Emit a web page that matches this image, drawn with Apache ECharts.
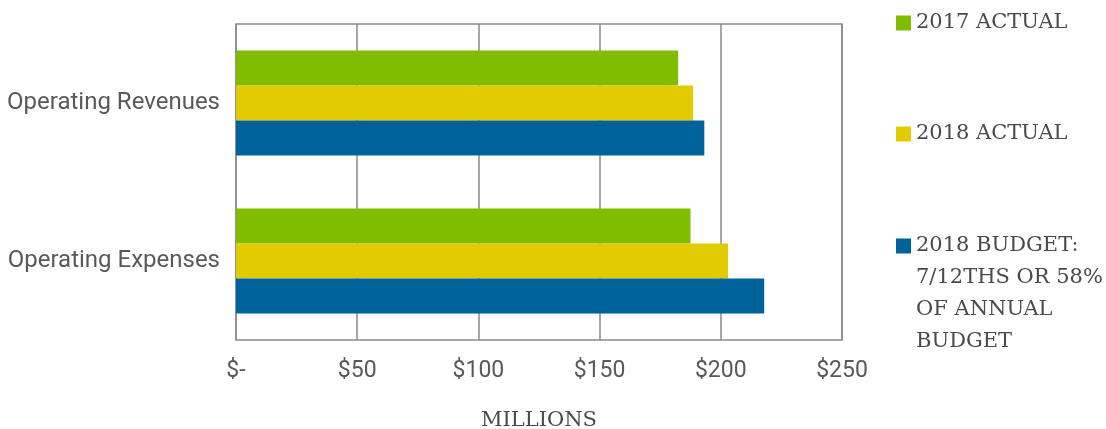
<!DOCTYPE html>
<html>
<head>
<meta charset="utf-8">
<script src="https://cdn.jsdelivr.net/npm/echarts@6/dist/echarts.min.js"></script>
<style>
  html, body { margin: 0; padding: 0; background: #ffffff; }
  #chart { width: 1106px; height: 429px; }
</style>
</head>
<body>
<div id="chart"></div>
<script>
// Operating results, in millions of dollars
const categories = ['Operating Revenues', 'Operating Expenses'];
const actual2017 = [182.4, 187.5];
const actual2018 = [188.6, 203.0];
const budget2018 = [193.2, 217.9];
const seriesNames = ['2017 ACTUAL', '2018 ACTUAL', '2018 BUDGET:\n7/12THS OR 58%\nOF ANNUAL\nBUDGET'];
const seriesColors = ['#80BC00', '#E2CB00', '#00629B'];
const axisTitle = 'MILLIONS';

const legendFont = { fontFamily: 'DejaVu Serif', fontSize: 21, color: '#4a4a4a', lineHeight: 32 };

// One legend block per series; the multi-line entry is padded with blank
// lines above so its first line sits level with the swatch.
function legendFor(i, top, blankLines) {
  const pad = '\n'.repeat(blankLines || 0);
  return {
    show: true,
    orient: 'vertical',
    left: 896,
    top: top,
    padding: 0,
    itemWidth: 15,
    itemHeight: 15,
    icon: 'rect',
    selectedMode: false,
    textStyle: legendFont,
    formatter: name => pad + name,
    data: [seriesNames[i]]
  };
}

const values = [actual2017, actual2018, budget2018];

const option = {
  animation: false,
  backgroundColor: '#ffffff',
  color: seriesColors,
  grid: {
    left: 236, right: 264, top: 24, bottom: 89,
    outerBoundsMode: 'none',
    containLabel: false,
    show: true, borderColor: '#8a8a8a', borderWidth: 1.5
  },
  legend: [
    legendFor(0, 7),
    legendFor(1, 118),
    legendFor(2, 134, 3)
  ],
  xAxis: {
    type: 'value',
    min: 0, max: 250, interval: 50,
    name: axisTitle,
    nameLocation: 'middle',
    nameGap: 70,
    nameTextStyle: { fontFamily: 'DejaVu Serif', fontSize: 21, color: '#4a4a4a', verticalAlign: 'top' },
    axisLine: { show: false },
    axisTick: { show: false },
    splitLine: { show: true, lineStyle: { color: '#8a8a8a', width: 1.5 } },
    axisLabel: {
      margin: 20,
      fontFamily: 'Roboto', fontSize: 23, color: '#595959',
      formatter: v => v === 0 ? '$-' : '$' + v
    }
  },
  yAxis: {
    type: 'category',
    data: categories,
    inverse: true,
    axisLine: { show: false },
    axisTick: { show: false },
    axisLabel: { margin: 16, fontFamily: 'Roboto', fontSize: 24, color: '#595959' }
  },
  series: values.map((d, i) => ({
    name: seriesNames[i],
    type: 'bar',
    data: d,
    barGap: '0%',
    barCategoryGap: '33.5%',
    itemStyle: { color: seriesColors[i] }
  }))
};

const chart = echarts.init(document.getElementById('chart'), null, { renderer: 'canvas' });
chart.setOption(option);
</script>
</body>
</html>
